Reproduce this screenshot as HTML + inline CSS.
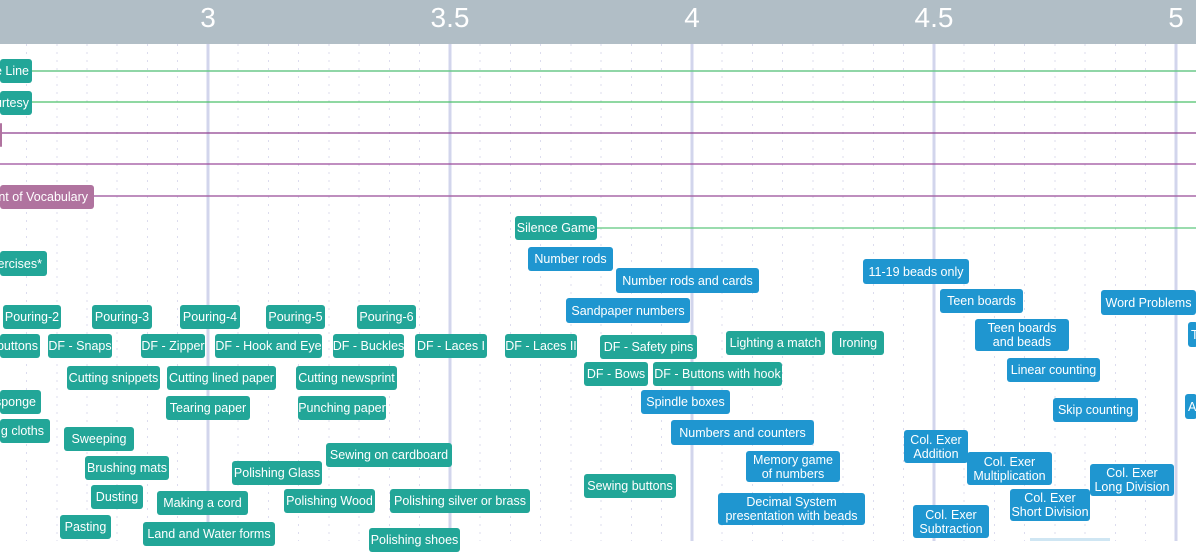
<!DOCTYPE html>
<html><head><meta charset="utf-8"><style>
body{margin:0;width:1196px;height:541px;overflow:hidden;background:#fff;position:relative;font-family:"Liberation Sans",sans-serif}
.h{position:absolute;left:0;top:0;width:1196px;height:44px;background:#b1bec6}
.n{position:absolute;top:2px;color:#fff;font-size:28px;width:80px;text-align:center}
.b{position:absolute;color:#fff;font-size:12.5px;border-radius:3px;display:flex;align-items:center;justify-content:center;text-align:center;line-height:14px;white-space:nowrap;overflow:hidden}
.t{background:#22a698}.u{background:#1f96d0}.p{background:#b0739f}
svg{position:absolute;left:0;top:0}
</style></head><body>
<svg width="1196" height="541">
<g stroke="#dcdcee" stroke-width="1" stroke-dasharray="2,6">
<line x1="26.5" y1="44" x2="26.5" y2="541"/><line x1="57" y1="44" x2="57" y2="541"/><line x1="87" y1="44" x2="87" y2="541"/><line x1="117" y1="44" x2="117" y2="541"/><line x1="147.5" y1="44" x2="147.5" y2="541"/><line x1="177.5" y1="44" x2="177.5" y2="541"/>
<line x1="238" y1="44" x2="238" y2="541"/><line x1="268.5" y1="44" x2="268.5" y2="541"/><line x1="298.5" y1="44" x2="298.5" y2="541"/><line x1="329" y1="44" x2="329" y2="541"/><line x1="359" y1="44" x2="359" y2="541"/><line x1="389.5" y1="44" x2="389.5" y2="541"/><line x1="419.5" y1="44" x2="419.5" y2="541"/>
<line x1="480" y1="44" x2="480" y2="541"/><line x1="510.5" y1="44" x2="510.5" y2="541"/><line x1="540.5" y1="44" x2="540.5" y2="541"/><line x1="571" y1="44" x2="571" y2="541"/><line x1="601" y1="44" x2="601" y2="541"/><line x1="631.5" y1="44" x2="631.5" y2="541"/><line x1="661.5" y1="44" x2="661.5" y2="541"/>
<line x1="722" y1="44" x2="722" y2="541"/><line x1="752.5" y1="44" x2="752.5" y2="541"/><line x1="782.5" y1="44" x2="782.5" y2="541"/><line x1="813" y1="44" x2="813" y2="541"/><line x1="843" y1="44" x2="843" y2="541"/><line x1="873.5" y1="44" x2="873.5" y2="541"/><line x1="903.5" y1="44" x2="903.5" y2="541"/>
<line x1="964" y1="44" x2="964" y2="541"/><line x1="994.5" y1="44" x2="994.5" y2="541"/><line x1="1024.5" y1="44" x2="1024.5" y2="541"/><line x1="1055" y1="44" x2="1055" y2="541"/><line x1="1085" y1="44" x2="1085" y2="541"/><line x1="1115.5" y1="44" x2="1115.5" y2="541"/><line x1="1145.5" y1="44" x2="1145.5" y2="541"/>
</g>
<g stroke="#d2d5ec" stroke-width="3">
<line x1="208" y1="44" x2="208" y2="541"/><line x1="450" y1="44" x2="450" y2="541"/><line x1="692" y1="44" x2="692" y2="541"/><line x1="934" y1="44" x2="934" y2="541"/><line x1="1176" y1="44" x2="1176" y2="541"/>
</g>
<line x1="28" y1="71" x2="1196" y2="71" stroke="#6bc98a" stroke-width="1.5"/>
<line x1="28" y1="102" x2="1196" y2="102" stroke="#4cc06a" stroke-width="1.2"/>
<line x1="2" y1="133" x2="1196" y2="133" stroke="#8e3f8e" stroke-width="1.2"/>
<line x1="0" y1="164" x2="1196" y2="164" stroke="#9a4a9a" stroke-width="1.2"/>
<line x1="94" y1="196" x2="1196" y2="196" stroke="#a868a8" stroke-width="1.5"/>
<line x1="597" y1="228" x2="1196" y2="228" stroke="#5ec77e" stroke-width="1.2"/>
<rect x="1030" y="538" width="80" height="3" fill="#cfe6f3"/>
</svg>
<div class="h"></div>
<div class="n" style="left:168px">3</div><div class="n" style="left:410px">3.5</div><div class="n" style="left:652px">4</div><div class="n" style="left:894px">4.5</div><div class="n" style="left:1136px">5</div>

<div class="b t" style="left:0;top:59px;width:32px;height:24px;justify-content:flex-end;padding-right:3px;box-sizing:border-box">e Line</div>
<div class="b t" style="left:0;top:91px;width:32px;height:24px;justify-content:flex-end;padding-right:3px;box-sizing:border-box">urtesy</div>
<div class="b p" style="left:0;top:123px;width:2px;height:24px"></div>
<div class="b p" style="left:0;top:185px;width:94px;height:24px;justify-content:flex-end;padding-right:6px;box-sizing:border-box">nt of Vocabulary</div>
<div class="b t" style="left:515px;top:216px;width:82px;height:24px">Silence Game</div>
<div class="b t" style="left:0;top:251px;width:47px;height:25px;justify-content:flex-end;padding-right:5px;box-sizing:border-box">xercises*</div>

<div class="b u" style="left:528px;top:247px;width:85px;height:24px">Number rods</div>
<div class="b u" style="left:616px;top:268px;width:143px;height:25px">Number rods and cards</div>
<div class="b u" style="left:566px;top:298px;width:124px;height:25px">Sandpaper numbers</div>
<div class="b u" style="left:863px;top:259px;width:106px;height:25px">11-19 beads only</div>
<div class="b u" style="left:940px;top:289px;width:83px;height:24px">Teen boards</div>
<div class="b u" style="left:1101px;top:290px;width:95px;height:25px">Word Problems</div>
<div class="b u" style="left:1188px;top:322px;width:10px;height:25px;justify-content:flex-start;padding-left:3px;box-sizing:border-box">T</div>
<div class="b u" style="left:975px;top:319px;width:94px;height:32px">Teen boards<br>and beads</div>
<div class="b u" style="left:1007px;top:358px;width:93px;height:24px">Linear counting</div>
<div class="b u" style="left:1053px;top:398px;width:85px;height:24px">Skip counting</div>
<div class="b u" style="left:1185px;top:394px;width:12px;height:25px;justify-content:flex-start;padding-left:3px;box-sizing:border-box">A</div>

<div class="b t" style="left:3px;top:305px;width:58px;height:24px">Pouring-2</div>
<div class="b t" style="left:92px;top:305px;width:60px;height:24px">Pouring-3</div>
<div class="b t" style="left:180px;top:305px;width:60px;height:24px">Pouring-4</div>
<div class="b t" style="left:266px;top:305px;width:59px;height:24px">Pouring-5</div>
<div class="b t" style="left:357px;top:305px;width:59px;height:24px">Pouring-6</div>

<div class="b t" style="left:0;top:334px;width:40px;height:24px;justify-content:flex-end;padding-right:2px;box-sizing:border-box">buttons</div>
<div class="b t" style="left:48px;top:334px;width:64px;height:24px">DF - Snaps</div>
<div class="b t" style="left:141px;top:334px;width:64px;height:24px">DF - Zipper</div>
<div class="b t" style="left:215px;top:334px;width:107px;height:24px">DF - Hook and Eye</div>
<div class="b t" style="left:333px;top:334px;width:71px;height:24px">DF - Buckles</div>
<div class="b t" style="left:415px;top:334px;width:72px;height:24px">DF - Laces I</div>
<div class="b t" style="left:505px;top:334px;width:72px;height:24px">DF - Laces II</div>
<div class="b t" style="left:600px;top:335px;width:97px;height:24px">DF - Safety pins</div>
<div class="b t" style="left:726px;top:331px;width:99px;height:24px">Lighting a match</div>
<div class="b t" style="left:832px;top:331px;width:52px;height:24px">Ironing</div>
<div class="b t" style="left:584px;top:362px;width:64px;height:24px">DF - Bows</div>
<div class="b t" style="left:653px;top:362px;width:129px;height:24px">DF - Buttons with hook</div>

<div class="b t" style="left:67px;top:366px;width:93px;height:24px">Cutting snippets</div>
<div class="b t" style="left:167px;top:366px;width:109px;height:24px">Cutting lined paper</div>
<div class="b t" style="left:296px;top:366px;width:101px;height:24px">Cutting newsprint</div>
<div class="b t" style="left:166px;top:396px;width:84px;height:24px">Tearing paper</div>
<div class="b t" style="left:298px;top:396px;width:88px;height:24px">Punching paper</div>
<div class="b t" style="left:0;top:390px;width:41px;height:24px;justify-content:flex-end;padding-right:5px;box-sizing:border-box">sponge</div>
<div class="b t" style="left:0;top:419px;width:50px;height:24px;justify-content:flex-end;padding-right:6px;box-sizing:border-box">g cloths</div>
<div class="b t" style="left:64px;top:427px;width:70px;height:24px">Sweeping</div>
<div class="b t" style="left:85px;top:456px;width:84px;height:24px">Brushing mats</div>
<div class="b t" style="left:232px;top:461px;width:90px;height:24px">Polishing Glass</div>
<div class="b t" style="left:326px;top:443px;width:126px;height:24px">Sewing on cardboard</div>
<div class="b t" style="left:91px;top:485px;width:52px;height:24px">Dusting</div>
<div class="b t" style="left:157px;top:491px;width:91px;height:24px">Making a cord</div>
<div class="b t" style="left:284px;top:489px;width:91px;height:24px">Polishing Wood</div>
<div class="b t" style="left:390px;top:489px;width:140px;height:24px">Polishing silver or brass</div>
<div class="b t" style="left:60px;top:515px;width:51px;height:24px">Pasting</div>
<div class="b t" style="left:143px;top:522px;width:132px;height:24px">Land and Water forms</div>
<div class="b t" style="left:369px;top:528px;width:91px;height:24px">Polishing shoes</div>
<div class="b t" style="left:584px;top:474px;width:92px;height:24px">Sewing buttons</div>

<div class="b u" style="left:641px;top:390px;width:89px;height:24px">Spindle boxes</div>
<div class="b u" style="left:671px;top:420px;width:143px;height:25px">Numbers and counters</div>
<div class="b u" style="left:746px;top:451px;width:94px;height:31px">Memory game<br>of numbers</div>
<div class="b u" style="left:718px;top:493px;width:147px;height:32px">Decimal System<br>presentation with beads</div>
<div class="b u" style="left:904px;top:430px;width:64px;height:33px">Col. Exer<br>Addition</div>
<div class="b u" style="left:967px;top:452px;width:85px;height:33px">Col. Exer<br>Multiplication</div>
<div class="b u" style="left:1090px;top:464px;width:84px;height:32px">Col. Exer<br>Long Division</div>
<div class="b u" style="left:913px;top:505px;width:76px;height:33px">Col. Exer<br>Subtraction</div>
<div class="b u" style="left:1010px;top:489px;width:80px;height:32px">Col. Exer<br>Short Division</div>
</body></html>
